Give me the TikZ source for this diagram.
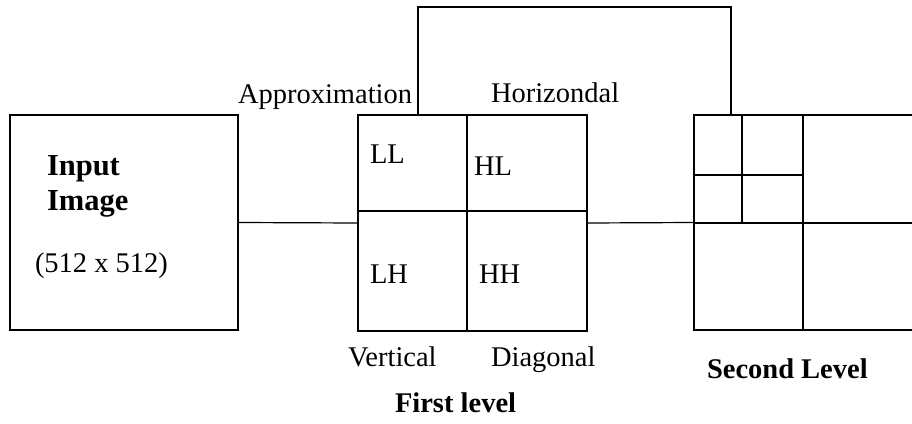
\documentclass[tikz,border=0pt]{standalone}
\usepackage{fontspec}
\setmainfont{Liberation Serif}
\usetikzlibrary{calc}
\begin{document}
\begin{tikzpicture}[x=1pt,y=-1pt,
  every node/.style={inner sep=0pt,outer sep=0pt},
  txt/.style={anchor=base west,font=\fontsize{28.5}{34}\selectfont},
  btxt/.style={txt,font=\fontsize{28.5}{34}\selectfont\bfseries},
  bigtxt/.style={txt,font=\fontsize{30.5}{36}\selectfont\bfseries},
  frame/.style={draw,line width=2.8pt},
  grid/.style={line width=2.8pt},
  wire/.style={line width=1.2pt}]
\useasboundingbox (0,0) rectangle (912,423);
\clip (0,0) rectangle (912,423);

% input image
\node[frame,minimum width=228pt,minimum height=215pt] (input) at (124,222.5) {};
\node[bigtxt] (t1) at (47,175) {Input};
\node[bigtxt] (t2) at (47,210) {Image};
\node[txt] (t3) at (35,272) {(512 x 512)};

% first decomposition level
\node[frame,minimum width=229pt,minimum height=216pt] (first) at (472.5,223) {};
\draw[grid] (first.north) ++(-5.5,0) -- ($(first.south)+(-5.5,0)$);
\draw[grid] (first.west) ++(0,-12) -- ($(first.east)+(0,-12)$);
\node[txt] (ll) at (370,163) {LL};
\node[txt] (hl) at (474,175) {HL};
\node[txt] (lh) at (370,283) {LH};
\node[txt] (hh) at (479,283) {HH};
\node[txt] (appr) at (238,103) {Approximation};
\node[txt] (horz) at (491,102) {Horizondal};
\node[txt] (vert) at (348,366) {Vertical};
\node[txt] (diag) at (491,366) {Diagonal};
\node[btxt] (fl) at (395,412) {First level};

% second decomposition level
\node[frame,minimum width=220pt,minimum height=215pt] (second) at (804,222.5) {};
\draw[grid] (803,115) -- (803,330);
\draw[grid] (694,223) -- (914,223);
\draw[grid] (742,115) -- (742,223);
\draw[grid] (694,175) -- (803,175);
\node[btxt] (sl) at (707,378) {Second Level};

% connectors
\draw[wire] (input.east) -- (first.west);
\draw[wire] (first.east) -- (second.west);
\coordinate (up1) at (418,7);
\coordinate (up2) at (731,7);
\draw[wire] (418,115) -- (up1) -- (up2) -- (731,115);
\end{tikzpicture}
\end{document}
